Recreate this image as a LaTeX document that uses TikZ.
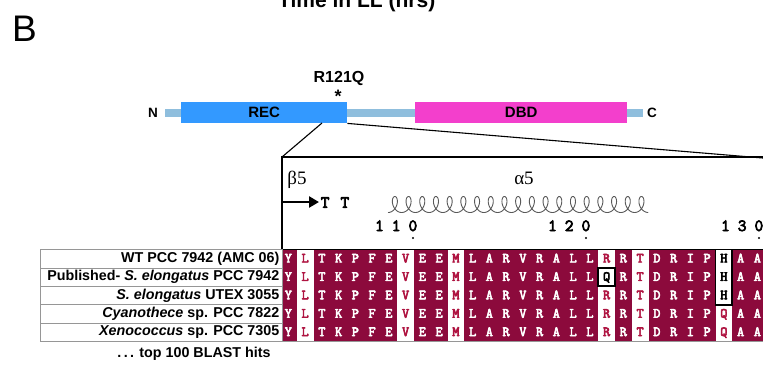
\documentclass[tikz,border=0pt]{standalone}
\usepackage{fontspec}
\setmainfont{Liberation Sans}
\newfontfamily\serifb{Liberation Serif}
\newfontfamily\monob[FakeBold=4]{Latin Modern Mono}
\usetikzlibrary{arrows.meta}
\definecolor{maroon}{RGB}{140,10,60}
\definecolor{redletter}{RGB}{175,20,65}
\definecolor{recblue}{RGB}{51,153,255}
\definecolor{dbdpink}{RGB}{243,63,204}
\definecolor{linkblue}{RGB}{143,190,221}
\definecolor{gridgray}{RGB}{150,150,150}
\tikzset{
  lbl/.style={anchor=east, inner sep=0pt, font=\fontsize{14.3}{16}\selectfont\bfseries},
  aa/.style={inner sep=0pt, text height=7.5pt, text depth=0pt, font=\monob\fontsize{14}{14}\selectfont},
  dom/.style={inner sep=0pt, minimum height=21pt, anchor=north west, font=\fontsize{15}{16}\selectfont\bfseries},
  term/.style={inner sep=0pt, font=\fontsize{13.5}{15}\selectfont\bfseries},
  ruler/.style={inner sep=0pt, anchor=base east, font=\monob\fontsize{17}{18}\selectfont},
  sstext/.style={inner sep=0pt, font=\serifb\fontsize{19}{20}\selectfont},
}
\begin{document}
\begin{tikzpicture}[x=1pt,y=-1pt]
\clip (0,0) rectangle (763,365);
% header
\node[anchor=base west, inner sep=0pt, font=\fontsize{21}{24}\selectfont\bfseries] (hdr) at (278,7) {Time in LL (hrs)};
\node[inner sep=0pt, font=\fontsize{37}{40}\selectfont] (panel) at (24.5,28.5) {B};
% protein domains
\fill[linkblue] (165,109) rectangle (643,117);
\node[dom, fill=recblue, minimum width=166pt] (rec) at (181,102) {REC};
\node[dom, fill=dbdpink, minimum width=212pt] (dbd) at (415,102) {DBD};
\node[term] (nterm) at (153,113) {N};
\node[term] (cterm) at (652,113) {C};
\node[inner sep=0pt, font=\fontsize{16}{18}\selectfont\bfseries] (mut) at (339,78) {R121Q};
\node[inner sep=0pt, anchor=base, font=\fontsize{18}{18}\selectfont\bfseries] (star) at (338,102) {*};
% zoom lines
\coordinate (zs) at (322,123);
\coordinate (zl) at (282,157);
\coordinate (zr) at (770,158.6);
\draw[line width=1.1pt] (zs) -- (zl);
\draw[line width=1.1pt] (rec.south east) -- (zr);
% zoom box
\draw[line width=1.3pt] (282,249.5) -- (282,157) -- (770,157);
% secondary structure
\node[sstext] (beta) at (297,180) {β5};
\node[sstext] (alpha) at (524,178) {α5};
\coordinate (ba) at (282,202);
\coordinate (bb) at (319,202);
\draw[line width=2.8pt, -{Triangle[length=10pt,width=11pt]}] (ba) -- (bb);
\node[inner sep=0pt, font=\monob\fontsize{17}{17}\selectfont] (tt) at (335,202.5) {T\hspace{11pt}T};
\draw[black!65, line width=0.9pt] plot[domain=0:119.38, samples=1000, variable=\t]
  ({388 + 13.7*\t/6.2832 + 5.5*sin(\t r)}, {204.5 + 8*cos(\t r)});
% ruler
\node[ruler] (n110) at (417.5,231) {1\hspace{8pt}1\hspace{8pt}0};
\node[ruler] (n120) at (590.5,231) {1\hspace{8pt}2\hspace{8pt}0};
\node[ruler] (n130) at (763.5,231) {1\hspace{8pt}3\hspace{8pt}0};
\fill (413,238) circle (1.1);
\fill (586,238) circle (1.1);
\fill (759,238) circle (1.1);
% alignment background
\fill[maroon] (282,249.5) rectangle (770,341.5);
\foreach \c in {2,8,11,20,22,27} {
  \fill[white] ({280+(\c-1)*16.75},249.5) rectangle ++(16.75,92);
}
\draw[line width=1.3pt] (282,249.5) -- (770,249.5);
\draw[gridgray, line width=0.8pt] (282,341.5) -- (770,341.5);
% residues
\foreach \r in {1,...,5} {
  \foreach \c/\l/\col in {1/Y/white,2/L/redletter,3/T/white,4/K/white,5/P/white,6/F/white,7/E/white,8/V/redletter,9/E/white,10/E/white,11/M/redletter,12/L/white,13/A/white,14/R/white,15/V/white,16/R/white,17/A/white,18/L/white,19/L/white,21/R/white,22/T/redletter,23/D/white,24/R/white,25/I/white,26/P/white,28/A/white,29/A/white} {
    \node[aa, text=\col] (s\r c\c) at ({280+(\c-0.5)*16.75},{249.5+(\r-0.5)*18.4}) {\l};
  }
}
\foreach \r/\l/\col in {1/R/redletter,2/Q/black,3/R/redletter,4/R/redletter,5/R/redletter} {
  \node[aa, text=\col] (s\r c20) at ({280+19.5*16.75},{249.5+(\r-0.5)*18.4}) {\l};
}
\foreach \r/\l/\col in {1/H/black,2/H/black,3/H/black,4/Q/redletter,5/Q/redletter} {
  \node[aa, text=\col] (s\r c27) at ({280+26.5*16.75},{249.5+(\r-0.5)*18.4}) {\l};
}
\draw[line width=1.8pt] ({280+19*16.75},{249.5+18.4}) rectangle ++(16.75,18.4);
\draw[line width=1.8pt] ({280+26*16.75},249.5) rectangle ++(16.75,55.2);
% label table
\draw[gridgray, line width=0.8pt] (40,249.5) rectangle (282,341.5);
\foreach \k in {1,...,4} {
  \draw[gridgray, line width=0.8pt] (40,{249.5+\k*18.4}) -- (282,{249.5+\k*18.4});
}
\node[lbl] (l1) at (279.5,{249.5+0.5*18.4}) {WT PCC 7942 (AMC 06)};
\node[lbl] (l2) at (279.5,{249.5+1.5*18.4}) {Published- \textit{S. elongatus} PCC 7942};
\node[lbl] (l3) at (279.5,{249.5+2.5*18.4}) {\textit{S. elongatus} UTEX 3055};
\node[lbl] (l4) at (279.5,{249.5+3.5*18.4}) {\textit{Cyanothece} sp. PCC 7822};
\node[lbl] (l5) at (279.5,{249.5+4.5*18.4}) {\textit{Xenococcus} sp. PCC 7305};
\node[inner sep=0pt, font=\fontsize{14.3}{16}\selectfont\bfseries] (blast) at (194,354) {.\,.\,. top 100 BLAST hits};
\end{tikzpicture}
\end{document}
